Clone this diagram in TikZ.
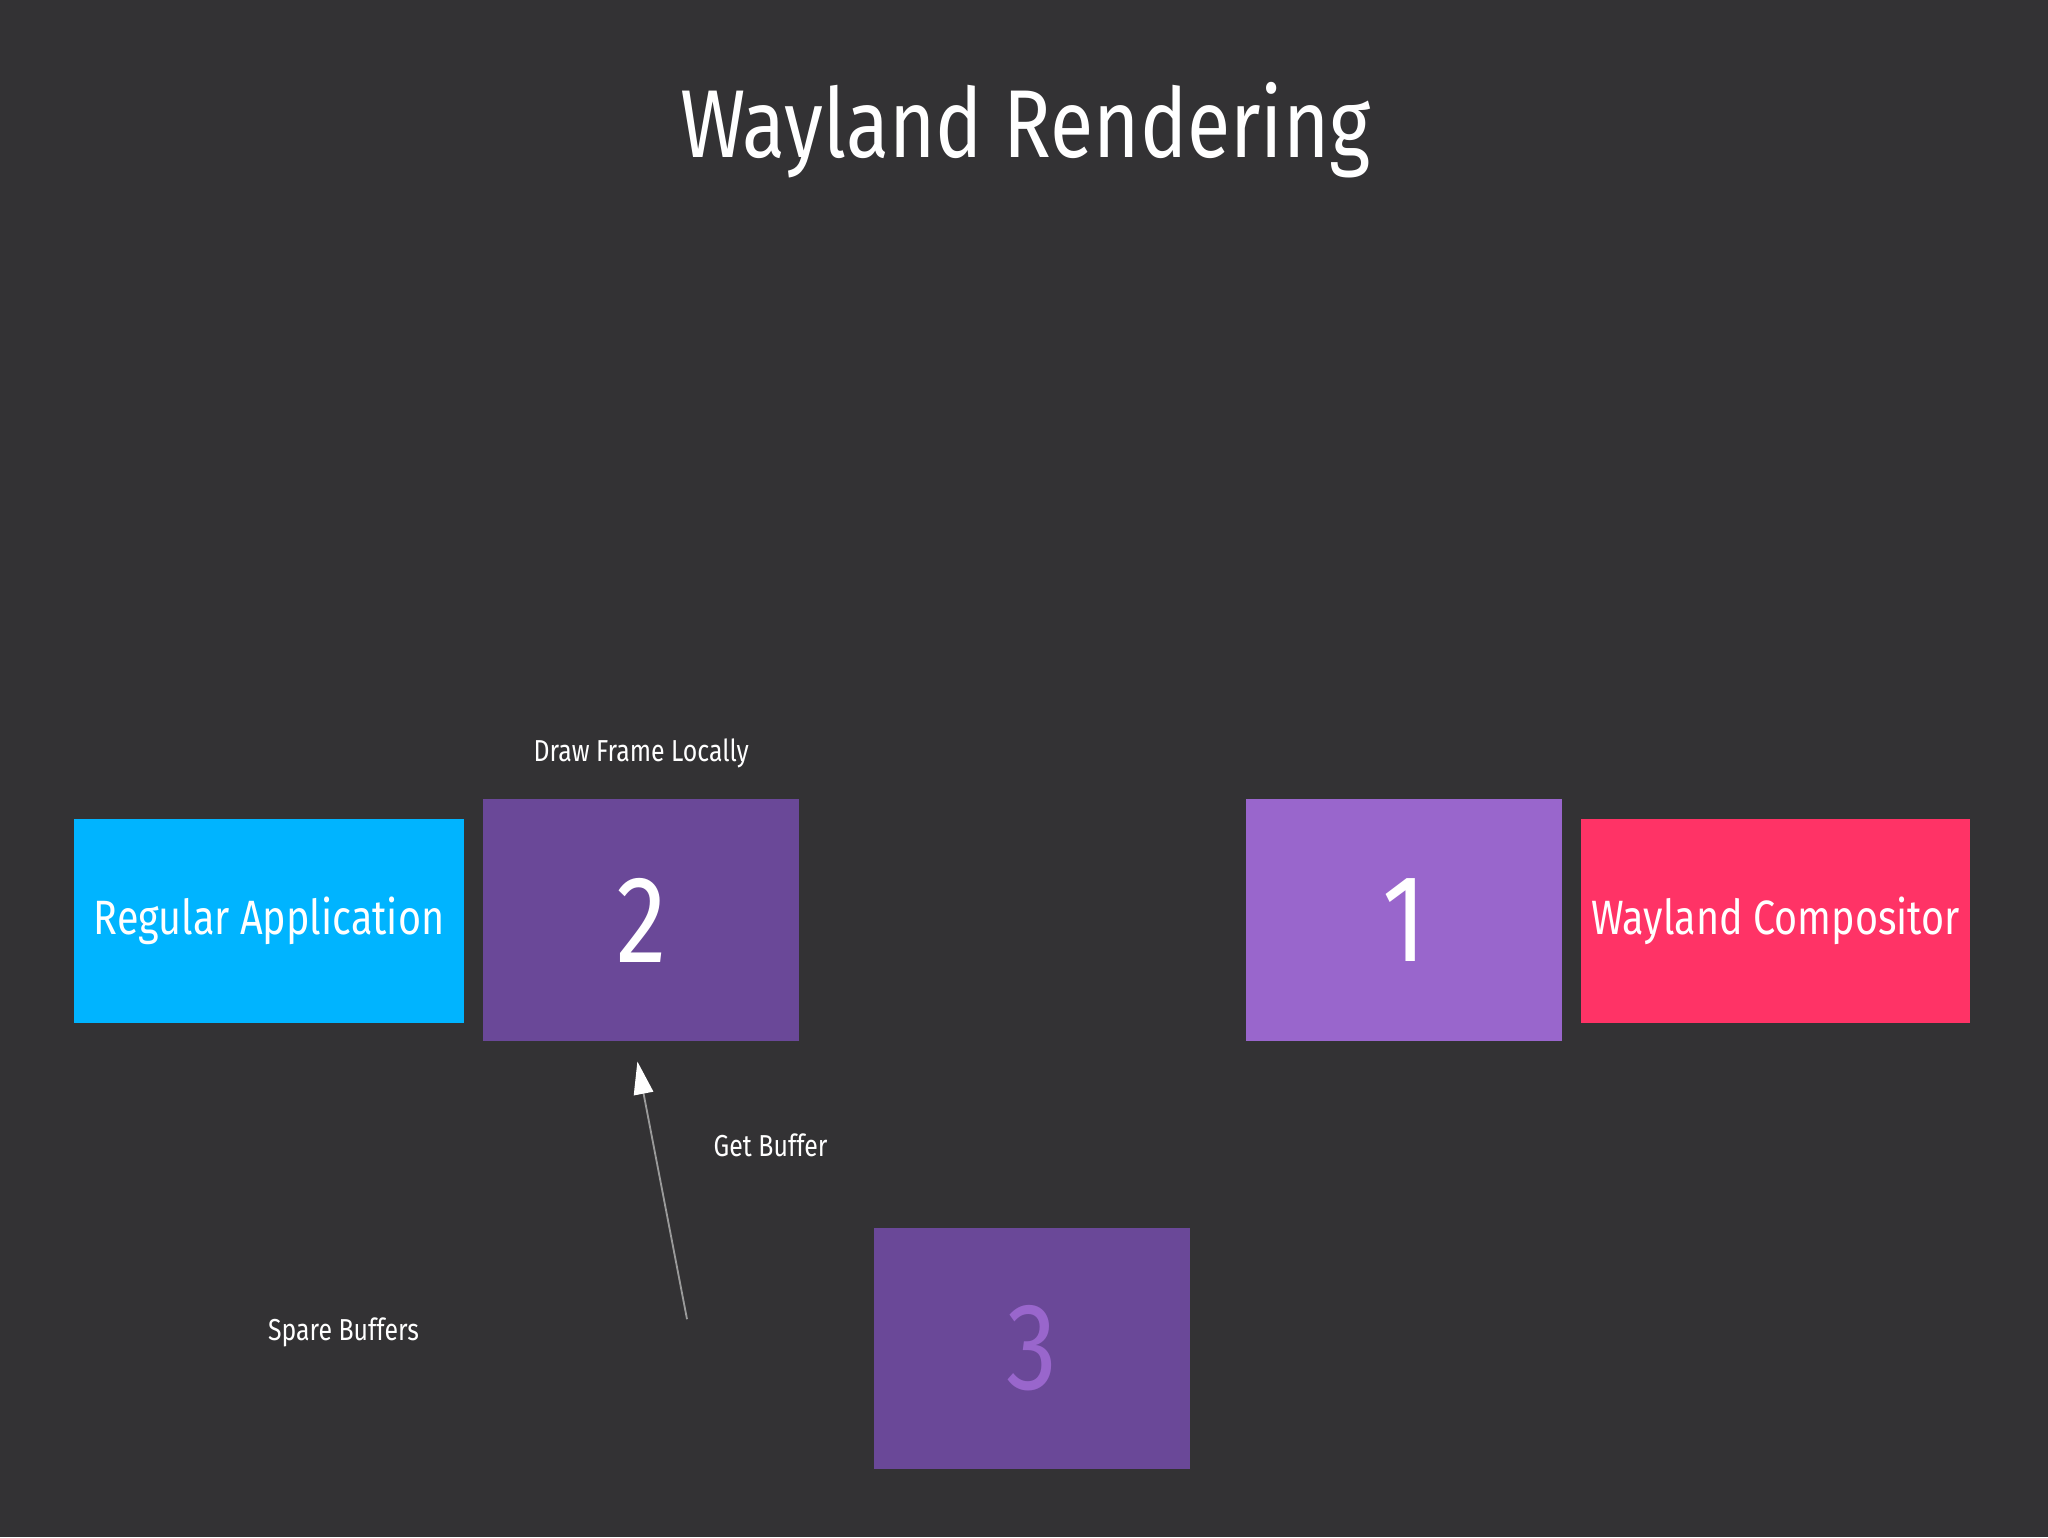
\documentclass[tikz,border=0pt]{standalone}
\usepackage{fontspec}
\setmainfont{Fira Sans}[FakeStretch=0.82]
\usetikzlibrary{arrows.meta,positioning}
\definecolor{bg}{HTML}{333234}
\definecolor{appblue}{HTML}{00B4FF}
\definecolor{bufdark}{HTML}{6A4898}
\definecolor{buflight}{HTML}{9966CC}
\definecolor{comppink}{HTML}{FF3366}
\definecolor{linegray}{HTML}{9A9A9A}
\tikzset{
  box/.style={minimum width=2.98cm, minimum height=1.56cm, inner sep=0pt, text=white, font=\fontsize{10.5}{12}\selectfont},
  buf/.style={minimum width=2.42cm, minimum height=1.85cm, inner sep=0pt, font=\fontsize{27}{30}\selectfont},
  lbl/.style={text=white, font=\fontsize{6.6}{8}\selectfont}
}
\begin{document}
\begin{tikzpicture}[>=Stealth]
  \fill[bg] (0,0) rectangle (15.68,-11.77);
  \useasboundingbox (0,0) rectangle (15.68,-11.77);
  \node[text=white, font=\fontsize{21}{24}\selectfont] (title) at (7.85,-1.0) {Wayland Rendering};
  \node[box, fill=appblue] (app) at (2.06,-7.05) {Regular Application};
  \node[buf, fill=bufdark, text=white] (b2) at (4.91,-7.045) {2};
  \node[buf, fill=buflight, text=white] (b1) at (10.75,-7.045) {1};
  \node[box, fill=comppink] (comp) at (13.595,-7.05) {Wayland Compositor};
  \node[buf, fill=bufdark, text=buflight] (b3) at (7.90,-10.325) {3};
  \node[lbl] (draw) at (4.91,-5.77) {Draw Frame Locally};
  \node[lbl] (get) at (5.90,-8.77) {Get Buffer};
  \node[lbl] (spare) at (2.63,-10.2) {Spare Buffers};
  \coordinate (tail) at (5.26,-10.10);
  \draw[linegray, line width=0.4pt, -{Triangle[length=0.25cm, width=0.15cm, fill=white, color=white]}]
    (tail) -- ([xshift=-0.03cm, yshift=-0.15cm]b2.south);
\end{tikzpicture}
\end{document}
